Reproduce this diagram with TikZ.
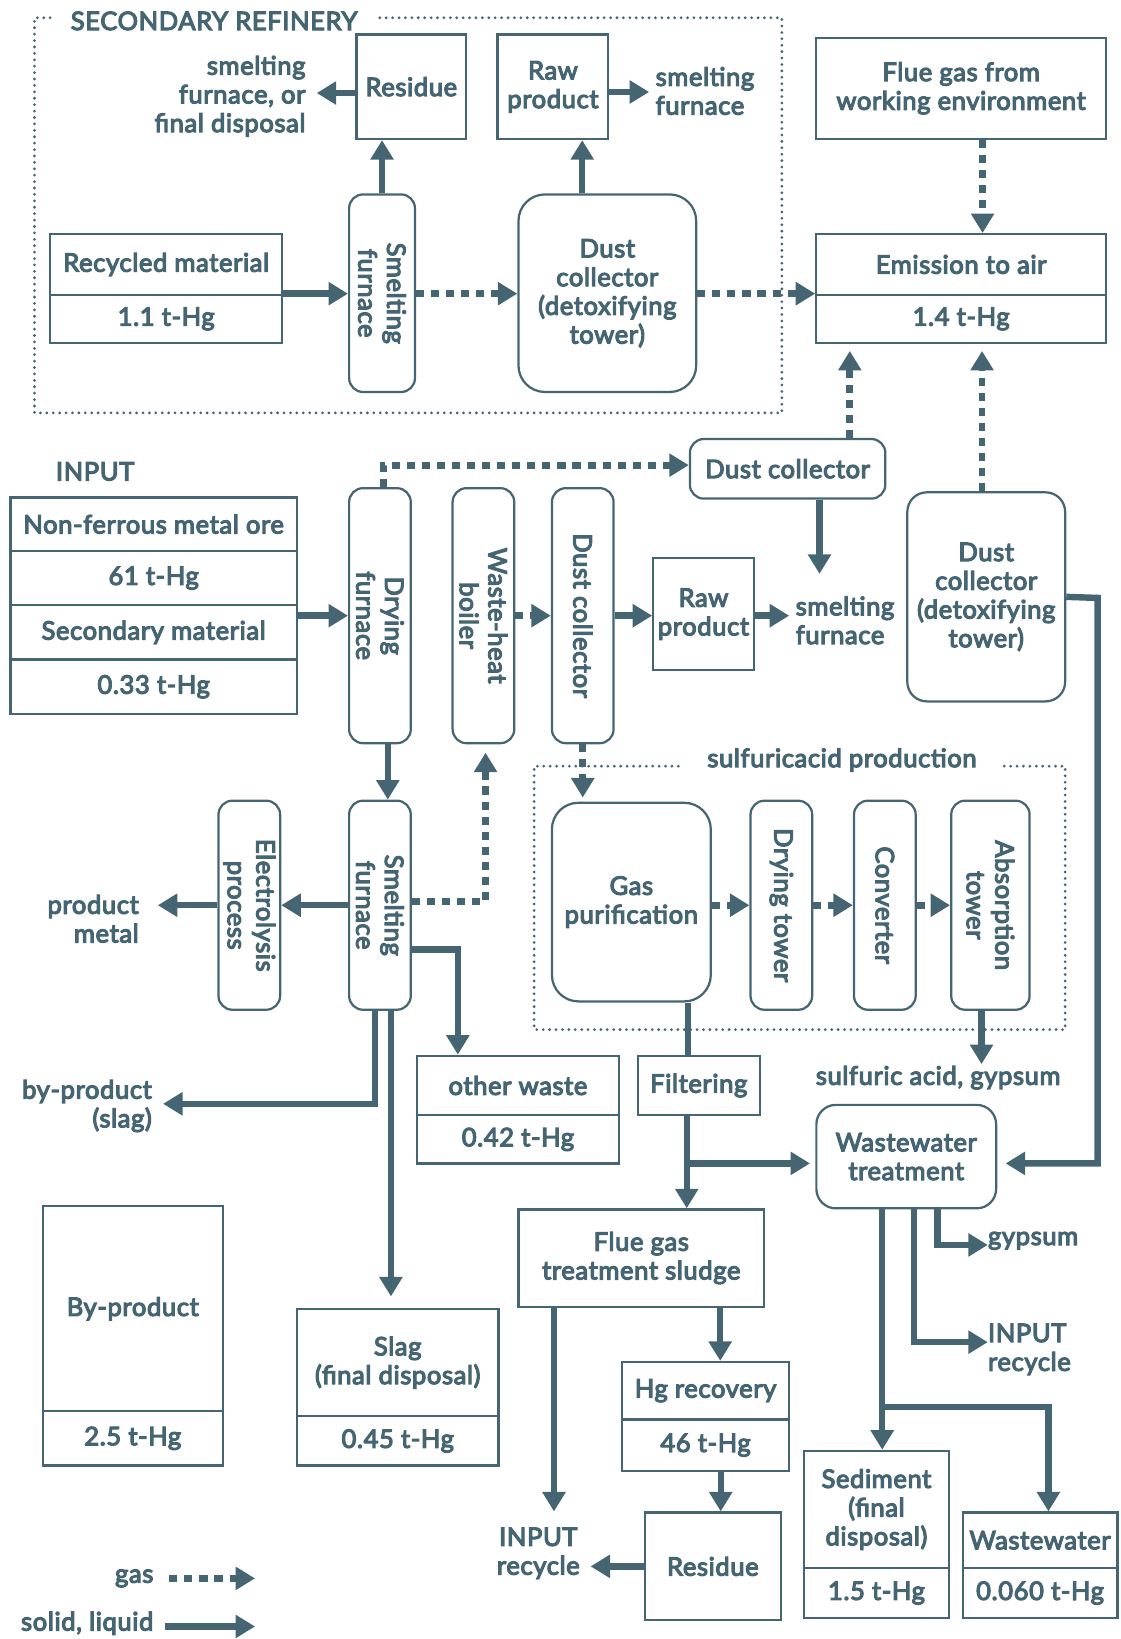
\documentclass[tikz,border=0pt]{standalone}
\usepackage{fontspec}
\setmainfont{Lato}[FakeBold=4.5, LetterSpace=2.5]
\usetikzlibrary{arrows.meta,calc}
\definecolor{ink}{RGB}{69,101,114}
\newcommand\bx[7]{%
  \pgfmathsetmacro\bxw{(#4-#2)*0.75}%
  \pgfmathsetmacro\bxh{(#5-#3)*0.75}%
  \node[#6, minimum width=\bxw pt, minimum height=\bxh pt] (#1) at ({(#2+#4)/2},{(#3+#5)/2}) {#7};}
\begin{document}
\begin{tikzpicture}[x=0.75pt,y=-0.75pt,
  every node/.style={font=\fontsize{18.3}{20.6}\selectfont, text=ink},
  box/.style={draw=ink, line width=1.6pt, rectangle, align=center, inner sep=0pt},
  rbox/.style={box, rounded corners=10pt},
  rmid/.style={box, rounded corners=14pt},
  rbig/.style={box, rounded corners=19pt},
  vlab/.style={label={[rotate=-90,align=center]center:#1}},
  lbl/.style={inner sep=0pt},
  flow/.style={draw=ink, line width=4.6pt, -{Triangle[length=14pt,width=16pt]}},
  flowline/.style={draw=ink, line width=4.6pt},
  gas/.style={draw=ink, line width=4.8pt, dash pattern=on 5.8pt off 5pt, -{Triangle[length=14pt,width=16pt]}},
  frame/.style={draw=ink, line width=2.2pt, line cap=round, dash pattern=on 0pt off 4.6pt},
]
\useasboundingbox (0,0) rectangle (1072,1568);

% ---------- secondary refinery ----------
\draw[frame] (48,17) -- (33,17) -- (33,395) -- (748,395) -- (748,17) -- (362,17);
\node[lbl, anchor=west] (srTitle) at (67.5,20) {SECONDARY REFINERY};
\bx{resT}{341}{33}{446}{133}{box}{Residue}
\bx{rawT}{476}{33}{582}{133}{box}{Raw\\product}
\node[lbl, anchor=east, align=right] (resTo) at (292.5,92) {smelting\\furnace, or\\final disposal};
\node[lbl, anchor=west, align=left] (rawTo) at (627,87) {smelting\\furnace};
\bx{smT}{334}{186}{397}{375}{rbox, vlab={Smelting\\furnace}}{}
\bx{recA}{48}{224}{270}{282}{box}{Recycled material}
\bx{recB}{48}{282}{270}{328}{box}{1.1 t-Hg}
\bx{dcT}{496}{186}{666}{375}{rbig}{Dust\\collector\\(detoxifying\\tower)}
\bx{flue}{781}{36}{1058}{133}{box}{Flue gas from\\working environment}
\bx{emA}{781}{224}{1058}{282}{box}{Emission to air}
\bx{emB}{781}{282}{1058}{328}{box}{1.4 t-Hg}

% ---------- input / main line ----------
\node[lbl] (inLbl) at (91,451) {INPUT};
\bx{inA}{10}{476}{284}{527}{box}{Non-ferrous metal ore}
\bx{inB}{10}{527}{284}{579}{box}{61 t-Hg}
\bx{inC}{10}{579}{284}{631}{box}{Secondary material}
\bx{inD}{10}{631}{284}{683}{box}{0.33 t-Hg}
\bx{dry}{334}{467}{393}{711}{rbox, vlab={Drying\\furnace}}{}
\bx{whb}{433}{467}{492}{711}{rbox, vlab={Waste-heat\\boiler}}{}
\bx{dcv}{528}{467}{587}{711}{rbox, vlab={Dust collector}}{}
\bx{rawM}{625}{534}{721}{641}{box}{Raw\\product}
\node[lbl, anchor=west, align=left] (rawMo) at (761,593.5) {smelting\\furnace};
\bx{dcm}{660}{420}{847}{477}{rbox}{Dust collector}
\bx{dcR}{868}{471}{1019}{671}{rmid}{Dust\\collector\\(detoxifying\\tower)}
\bx{smM}{334}{766}{393}{966}{rbox, vlab={Smelting\\furnace}}{}
\bx{ele}{209}{766}{268}{966}{rbox, vlab={Electrolysis\\process}}{}
\node[lbl, anchor=east, align=right] (pm) at (133,879) {product\\metal};
\node[lbl, anchor=east, align=right] (bp) at (145.5,1058) {by-product\\(slag)};
\bx{owA}{399}{1010}{592}{1067}{box}{other waste}
\bx{owB}{399}{1067}{592}{1113}{box}{0.42 t-Hg}

% ---------- sulfuric acid production ----------
\draw[frame] (649,733) -- (511,733) -- (511,985) -- (1019,985) -- (1019,733) -- (959,733);
\node[lbl] (saTitle) at (805.5,727) {sulfuricacid production};
\bx{gp}{528}{768}{680}{958}{rbig}{Gas\\purification}
\bx{dt}{718}{766}{777}{966}{rbox, vlab={Drying tower}}{}
\bx{cv}{817}{766}{876}{966}{rbox, vlab={Converter}}{}
\bx{ab}{910}{766}{985}{966}{rbox, vlab={Absorption\\tower}}{}
\node[lbl] (sa) at (897.5,1031) {sulfuric acid, gypsum};
\bx{filt}{610}{1010}{727}{1067}{box}{Filtering}
\bx{wwt}{781}{1057}{953}{1156}{rmid}{Wastewater\\treatment}

% ---------- bottom ----------
\bx{fgs}{496}{1157}{731}{1250}{box}{Flue gas\\treatment sludge}
\node[lbl, align=center] (ir1) at (515,1486) {INPUT\\recycle};
\bx{hgA}{595}{1303}{755}{1358}{box}{Hg recovery}
\bx{hgB}{595}{1358}{755}{1407}{box}{46 t-Hg}
\bx{resB}{617}{1447}{747}{1550}{box}{Residue}
\node[lbl, anchor=west] (gy) at (945,1187) {gypsum};
\node[lbl, anchor=west, align=left] (ir2) at (945,1291) {INPUT\\recycle};
\bx{sedA}{769}{1388}{908}{1500}{box}{Sediment\\(final\\disposal)}
\bx{sedB}{769}{1500}{908}{1548}{box}{1.5 t-Hg}
\bx{wwA}{921}{1447}{1069}{1500}{box}{Wastewater}
\bx{wwB}{921}{1500}{1069}{1548}{box}{0.060 t-Hg}
\bx{byA}{41}{1154}{213}{1350}{box}{By-product}
\bx{byB}{41}{1350}{213}{1402}{box}{2.5 t-Hg}
\bx{slA}{284}{1252}{477}{1355}{box}{Slag\\(final disposal)}
\bx{slB}{284}{1355}{477}{1402}{box}{0.45 t-Hg}

% legend
\node[lbl, anchor=east] (lgGas) at (147,1510) {gas};
\node[lbl, anchor=east] (lgSol) at (147,1553) {solid, liquid};

% ---------- free ends ----------
\coordinate (resTip) at (303,89);
\coordinate (rawTip) at (621,88);
\coordinate (rawMTip) at (755,589);
\coordinate (dcmTip) at (784,549);
\coordinate (rbend) at (1050,572);
\coordinate (pmTip) at (151,866);
\coordinate (bpTip) at (156,1056);
\coordinate (saTip) at (940,1018);
\coordinate (ir1Tip) at (530,1446);
\coordinate (rbTip) at (565,1499);
\coordinate (gyTip) at (945,1191);
\coordinate (irTip) at (945,1284);
\coordinate (wwBend) at (1003,1346);
\coordinate (lg1) at (162,1510);
\coordinate (lg2) at (244,1510);
\coordinate (ls1) at (158,1556);
\coordinate (ls2) at (244,1556);

% ---------- connectors: top ----------
\draw[flow] (smT.north) -- (smT.north |- resT.south);
\draw[flow] (resT.west |- resTip) -- (resTip);
\draw[flow] (rawT.east |- rawTip) -- (rawTip);
\draw[flow] (recB.north east) -- (recB.north east -| smT.west);
\draw[gas] (smT.east |- recB.north east) -- (recB.north east -| dcT.west);
\draw[flow] ($(dcT.north)+(-24,0)$) coordinate (dcTu) -- (dcTu |- rawT.south);
\draw[gas] (dcT.east |- recB.north east) -- (recB.north east -| emA.west);
\draw[gas] ($(flue.south)+(20.5,0)$) coordinate (flu) -- (flu |- emA.north);
\draw[gas, shorten >=5pt] ($(dcm.north)+(59.5,0)$) coordinate (dcmu) -- (dcmu |- emB.south);
\draw[gas, shorten >=5pt] ($(dcR.north)+(-4,0)$) coordinate (dcRu) -- (dcRu |- emB.south);

% ---------- connectors: middle ----------
\draw[flow] (inC.east |- dry.west) -- (dry.west);
\draw[gas] ($(dry.north)+(3.5,0)$) |- ($(dcm.west)+(0,-3.5)$);
\draw[gas] (whb.east) -- (whb.east -| dcv.west);
\draw[flow] (dcv.east) -- (dcv.east -| rawM.west);
\draw[flow] (rawM.east |- rawMTip) -- (rawMTip);
\draw[flow] (dcm.south -| dcmTip) -- (dcmTip);
\draw[flow] (dcR.east) -- (rbend) |- ($(wwt.east)+(8,6.5)$);
\draw[flow] ($(dry.south)+(7.5,0)$) coordinate (dd) -- (dd |- smM.north);
\draw[gas, shorten >=6pt] ($(smM.east)+(0,-3.5)$) -| ($(whb.south)+(2,0)$);
\draw[flow] (smM.west) -- (smM.west -| ele.east);
\draw[flow] (ele.west) -- (ele.west -| pmTip);
\draw[flow] ($(smM.south)+(-4.5,0)$) |- (bpTip);
\draw[flow, shorten >=8pt] ($(smM.south)+(10.5,0)$) coordinate (sl) -- (sl |- slA.north);
\draw[flow] ($(smM.east)+(0,42.5)$) -| ($(owA.north)+(-57.5,0)$);
\draw[gas, shorten >=3pt] (dcv.south) -- (dcv.south |- gp.north);
\draw[gas] (dt.west -| gp.east) -- (dt.west);
\draw[gas] (dt.east) -- (dt.east -| cv.west);
\draw[gas] (cv.east) -- (cv.east -| ab.west);
\draw[flow] ($(ab.south)+(-8.5,0)$) coordinate (abo) -- (abo |- saTip);
\draw[flowline] ($(gp.south)+(54,0)$) coordinate (gpo) -- (gpo |- filt.north);
\draw[flow] ($(filt.south)+(-11.5,0)$) coordinate (fo) -- (fo |- fgs.north);
\draw[flow] (fo |- wwt.west) ++(0,6.5) coordinate (fob) -- ($(wwt.west)+(-5,6.5)$);

% ---------- connectors: bottom ----------
\draw[flow] ($(fgs.south)+(-83.5,0)$) coordinate (fgl) -- (fgl |- ir1Tip);
\draw[flow] ($(fgs.south)+(75.5,0)$) coordinate (fgr) -- (fgr |- hgA.north);
\draw[flow] ($(hgB.south)+(14.5,0)$) coordinate (hgo) -- (hgo |- resB.north);
\draw[flow] (resB.west) -- (resB.west -| rbTip);
\draw[flow] ($(wwt.south)+(30,0)$) |- (gyTip);
\draw[flow] ($(wwt.south)+(7.5,0)$) |- (irTip);
\draw[flow] ($(wwt.south)+(-23,0)$) coordinate (wo) -- (wo |- sedA.north);
\draw[flow] (wo |- wwBend) -| ($(wwA.north)+(8,0)$);

% legend arrows
\draw[gas] (lg1) -- (lg2);
\draw[flow] (ls1) -- (ls2);
\end{tikzpicture}
\end{document}
